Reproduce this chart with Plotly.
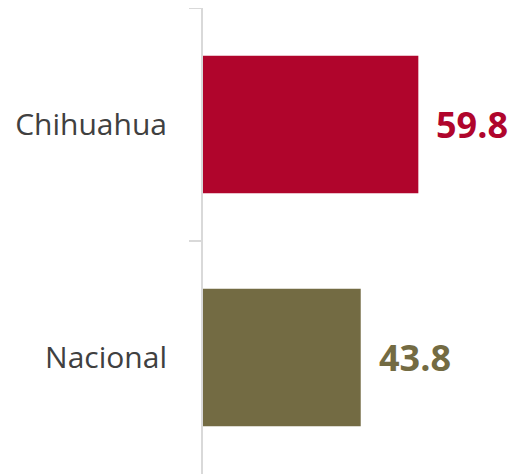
import plotly.graph_objects as go

categories = ["Chihuahua", "Nacional"]
values = [59.8, 43.8]
colors = ["#B0052C", "#736B43"]
value_labels = ["59.8", "43.8"]

fig = go.Figure()
fig.add_trace(go.Bar(
    y=categories, x=values, orientation="h",
    marker=dict(color=colors, line=dict(width=0)),
    width=0.59, hoverinfo="skip",
))

for c, v, col, lab in zip(categories, values, colors, value_labels):
    fig.add_annotation(x=v, y=c, text="<b>%s</b>" % lab, showarrow=False,
                       xanchor="left", yanchor="middle", xshift=16,
                       font=dict(family="Open Sans", size=36, color=col))

fig.update_layout(
    width=518, height=476,
    margin=dict(l=195, r=0, t=0, b=10),
    paper_bgcolor="white", plot_bgcolor="white",
    showlegend=False,
    xaxis=dict(range=[0, 89.7], visible=False, fixedrange=True),
    yaxis=dict(
        type="category", autorange="reversed",
        showline=True, linecolor="#D9D9D9", linewidth=2,
        ticks="outside", tickson="boundaries", ticklen=12,
        tickcolor="#D9D9D9", tickwidth=2,
        tickfont=dict(family="Open Sans", size=30, color="#404040"),
        ticklabelstandoff=28,
        showgrid=False, zeroline=False,
    ),
)

fig.write_html("out.html")
